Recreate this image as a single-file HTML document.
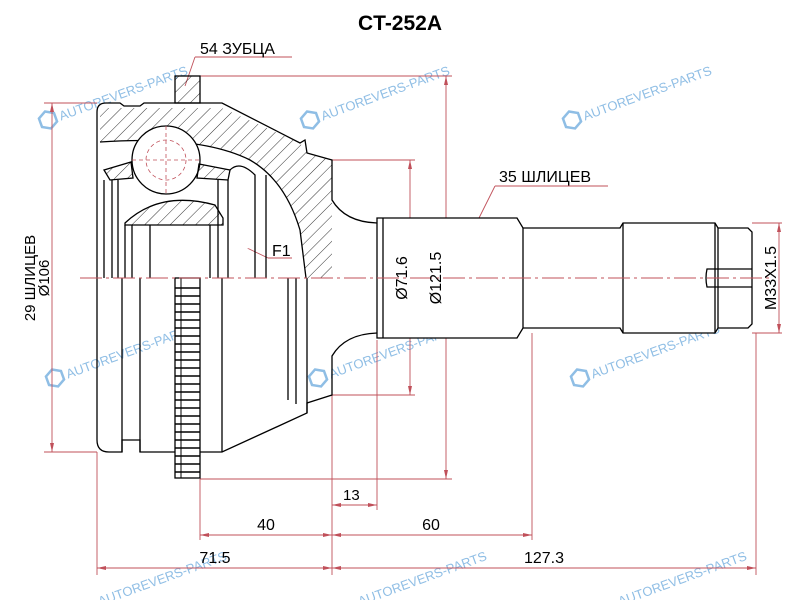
<!DOCTYPE html>
<html><head><meta charset="utf-8"><style>
html,body{margin:0;padding:0;background:#fff;width:800px;height:600px;overflow:hidden}
svg{display:block}
text{font-family:"Liberation Sans",sans-serif}
</style></head><body>
<svg width="800" height="600" viewBox="0 0 800 600" xmlns="http://www.w3.org/2000/svg">
<defs>
<pattern id="h" patternUnits="userSpaceOnUse" width="9" height="9" patternTransform="rotate(45)">
<line x1="0" y1="0" x2="0" y2="9" stroke="#000" stroke-width="0.8"/>
</pattern>
</defs>
<rect width="800" height="600" fill="#fff"/>

<!-- watermarks -->
<g fill="#6aa8dc" opacity="0.75" font-size="13">
<g transform="translate(48,120) rotate(-20)"><text x="12" y="5">AUTOREVERS-PARTS</text><polygon points="0,-9 8,-4.5 8,4.5 0,9 -8,4.5 -8,-4.5" fill="none" stroke="#6aa8dc" stroke-width="2.5"/></g>
<g transform="translate(310,120) rotate(-20)"><text x="12" y="5">AUTOREVERS-PARTS</text><polygon points="0,-9 8,-4.5 8,4.5 0,9 -8,4.5 -8,-4.5" fill="none" stroke="#6aa8dc" stroke-width="2.5"/></g>
<g transform="translate(572,120) rotate(-20)"><text x="12" y="5">AUTOREVERS-PARTS</text><polygon points="0,-9 8,-4.5 8,4.5 0,9 -8,4.5 -8,-4.5" fill="none" stroke="#6aa8dc" stroke-width="2.5"/></g>
<g transform="translate(55,378) rotate(-20)"><text x="12" y="5">AUTOREVERS-PARTS</text><polygon points="0,-9 8,-4.5 8,4.5 0,9 -8,4.5 -8,-4.5" fill="none" stroke="#6aa8dc" stroke-width="2.5"/></g>
<g transform="translate(318,378) rotate(-20)"><text x="12" y="5">AUTOREVERS-PARTS</text><polygon points="0,-9 8,-4.5 8,4.5 0,9 -8,4.5 -8,-4.5" fill="none" stroke="#6aa8dc" stroke-width="2.5"/></g>
<g transform="translate(580,378) rotate(-20)"><text x="12" y="5">AUTOREVERS-PARTS</text><polygon points="0,-9 8,-4.5 8,4.5 0,9 -8,4.5 -8,-4.5" fill="none" stroke="#6aa8dc" stroke-width="2.5"/></g>
<text transform="translate(100,606) rotate(-20)">AUTOREVERS-PARTS</text>
<text transform="translate(360,606) rotate(-20)">AUTOREVERS-PARTS</text>
<text transform="translate(620,606) rotate(-20)">AUTOREVERS-PARTS</text>
</g>

<text x="400" y="30" text-anchor="middle" font-size="21" font-weight="bold">CT-252A</text>

<!-- dimension lines -->
<g stroke="#c0505a" stroke-width="0.9" fill="none">
<line x1="44" y1="103" x2="97" y2="103"/><line x1="44" y1="452" x2="97" y2="452"/>
<line x1="52" y1="103" x2="52" y2="452"/>
<line x1="200" y1="76" x2="452" y2="76"/><line x1="200" y1="479" x2="452" y2="479"/>
<line x1="446" y1="76" x2="446" y2="479"/>
<line x1="332" y1="160" x2="415" y2="160"/><line x1="332" y1="395" x2="415" y2="395"/>
<line x1="410" y1="160" x2="410" y2="395"/>
<line x1="752" y1="223" x2="782" y2="223"/><line x1="752" y1="333" x2="782" y2="333"/>
<line x1="779" y1="223" x2="779" y2="333"/>
<line x1="97" y1="452" x2="97" y2="575"/>
<line x1="200" y1="479" x2="200" y2="540"/>
<line x1="332" y1="395" x2="332" y2="575"/>
<line x1="377" y1="340" x2="377" y2="510"/>
<line x1="532" y1="333" x2="532" y2="540"/>
<line x1="756" y1="333" x2="756" y2="575"/>
<line x1="332" y1="505" x2="377" y2="505"/>
<line x1="200" y1="535" x2="532" y2="535"/>
<line x1="97" y1="568" x2="756" y2="568"/>
<line x1="195" y1="57" x2="292" y2="57"/><line x1="195" y1="57" x2="185" y2="86"/>
<line x1="495" y1="186" x2="608" y2="186"/><line x1="495" y1="186" x2="478" y2="220"/>
<circle cx="211" cy="228" r="14"/><line x1="222" y1="236" x2="268" y2="258"/><line x1="268" y1="258" x2="292" y2="258"/>
</g>
<g fill="#c0505a">
<polygon points="52,103 50,112 54,112"/><polygon points="52,452 50,443 54,443"/>
<polygon points="446,76 444,85 448,85"/><polygon points="446,479 444,470 448,470"/>
<polygon points="410,160 408,169 412,169"/><polygon points="410,395 408,386 412,386"/>
<polygon points="779,223 777,232 781,232"/><polygon points="779,333 777,324 781,324"/>
<polygon points="332,505 341,503 341,507"/><polygon points="377,505 368,503 368,507"/>
<polygon points="200,535 209,533 209,537"/><polygon points="332,535 323,533 323,537"/><polygon points="332,535 341,533 341,537"/><polygon points="532,535 523,533 523,537"/>
<polygon points="97,568 106,566 106,570"/><polygon points="332,568 323,566 323,570"/><polygon points="332,568 341,566 341,570"/><polygon points="756,568 747,566 747,570"/>
</g>

<!-- body -->
<g stroke="#000" stroke-width="1.3" fill="none">
<path d="M97,278 V112 Q97,103 106,103 H120 L124,106 H140 L144,103 H222 L300,143 L305,140 L307,153 L332,160 V200 Q345,222 377,223" fill="#fff"/>
<path d="M97,278 V440 Q97,452 109,452 H122 V440 H140 V452 H222 L307,413 V403 L332,395 V356 Q345,334 377,333"/>
<path d="M100,108 H222 L300,143 L307,153 L332,160 V278 H306 L300,230 Q285,180 250,160 Q200,135 100,142 Z" fill="url(#h)" stroke="none"/>
<path d="M100,142 Q200,135 250,160 Q285,180 300,230 L306,278"/>
<rect x="175" y="76" width="25" height="27" fill="url(#h)"/>
<circle cx="166" cy="160" r="34" fill="#fff"/>
<g stroke="#c0505a" stroke-width="0.8" stroke-dasharray="4,3"><line x1="166" y1="126" x2="166" y2="194"/><line x1="132" y1="160" x2="200" y2="160"/><circle cx="166" cy="160" r="20"/></g>
<path d="M104,170 L131,162 L133,178 L110,180 Z" fill="url(#h)"/>
<path d="M199,164 L230,170 L228,180 L197,178 Z" fill="url(#h)"/>
<path d="M125,223 Q160,190 215,205 L223,218 V225 H125 Z" fill="url(#h)"/>
<path d="M230,170 Q240,160 255,175 V278"/>
<line x1="104" y1="180" x2="104" y2="278"/><line x1="112" y1="180" x2="112" y2="278"/><line x1="118" y1="180" x2="118" y2="278"/>
<line x1="125" y1="225" x2="125" y2="278"/><line x1="132" y1="225" x2="132" y2="278"/>
<line x1="150" y1="225" x2="150" y2="278"/><line x1="210" y1="225" x2="210" y2="278"/>
<line x1="218" y1="180" x2="218" y2="278"/><line x1="228" y1="180" x2="228" y2="278"/>
<line x1="266" y1="175" x2="266" y2="278"/>
<line x1="122" y1="278" x2="122" y2="452"/><line x1="140" y1="278" x2="140" y2="452"/>
<line x1="222" y1="278" x2="222" y2="452"/>
<line x1="288" y1="278" x2="288" y2="400"/><line x1="296" y1="278" x2="296" y2="404"/><line x1="307" y1="278" x2="307" y2="413"/>
<rect x="175" y="278" width="25" height="200" fill="#fff"/>
<path d="M377,223 V218 H517 L523,228 H620 L623,223 H715 L718,228 H748 L752,232 V324 L748,328 H718 L715,333 H623 L620,328 H523 L517,338 H377 Z" fill="#fff"/>
<line x1="383" y1="218" x2="383" y2="338"/>
<line x1="523" y1="228" x2="523" y2="328"/>
<line x1="623" y1="223" x2="623" y2="333"/>
<line x1="715" y1="223" x2="715" y2="333"/><line x1="718" y1="228" x2="718" y2="328"/>
<path d="M752,269 H707 Q705,278 707,287 H752"/>
</g>
<g stroke="#000" stroke-width="1.4">
<path d="M175,288 H200 M175,296 H200 M175,304 H200 M175,312 H200 M175,320 H200 M175,328 H200 M175,336 H200 M175,344 H200 M175,352 H200 M175,360 H200 M175,368 H200 M175,376 H200 M175,384 H200 M175,392 H200 M175,400 H200 M175,408 H200 M175,416 H200 M175,424 H200 M175,432 H200 M175,440 H200 M175,448 H200 M175,456 H200 M175,464 H200 M175,472 H200"/>
<line x1="181" y1="278" x2="181" y2="478" stroke-width="1"/>
</g>
<line x1="80" y1="278" x2="770" y2="278" stroke="#c0505a" stroke-width="0.9" stroke-dasharray="22,4,3,4"/>

<!-- labels -->
<g font-size="16" fill="#000">
<text x="200" y="54">54 ЗУБЦА</text>
<text x="499" y="182">35 ШЛИЦЕВ</text>
<text x="272" y="256">F1</text>
<text x="343" y="500" font-size="15">13</text>
<text x="266" y="530" text-anchor="middle">40</text>
<text x="431" y="530" text-anchor="middle">60</text>
<text x="215" y="563" text-anchor="middle">71.5</text>
<text x="544" y="563" text-anchor="middle">127.3</text>
<text transform="translate(407,278) rotate(-90)" text-anchor="middle">Ø71.6</text>
<text transform="translate(441,278) rotate(-90)" text-anchor="middle">Ø121.5</text>
<text transform="translate(776,278) rotate(-90)" text-anchor="middle">M33X1.5</text>
<text transform="translate(35,278) rotate(-90)" text-anchor="middle" font-size="15">29 ШЛИЦЕВ</text>
<text transform="translate(49,278) rotate(-90)" text-anchor="middle" font-size="15">Ø106</text>
</g>
</svg>
</body></html>
